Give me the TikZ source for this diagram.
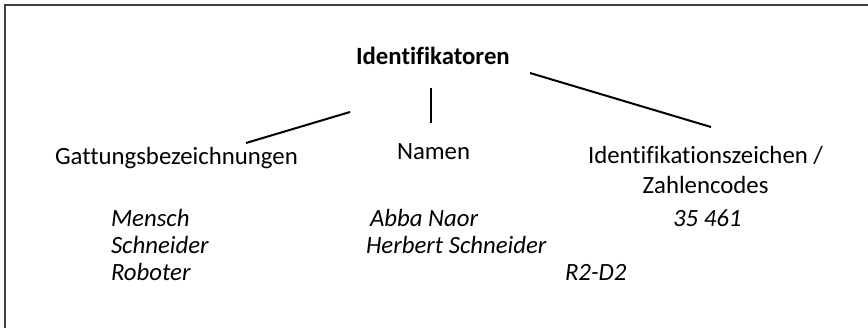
\documentclass[tikz,border=0pt]{standalone}
\usepackage{fontspec}
\setmainfont[Ligatures={NoCommon}]{Carlito}
\begin{document}
\begin{tikzpicture}[x=1pt,y=-1pt,
  lbl/.style={anchor=base west,inner sep=0pt,outer sep=0pt,font=\fontsize{24.8}{30}\selectfont},
  ex/.style={lbl,font=\fontsize{24.8}{30}\selectfont\itshape},
  conn/.style={line width=2pt,black},
  frame/.style={line width=2pt,draw=black!75}]
\useasboundingbox (0,0) rectangle (868,328);
\draw[frame] (868,5.5) -- (4.5,5.5) -- (4.5,328);
\node[lbl,font=\fontsize{24.8}{30}\selectfont\bfseries] (root) at (356,65) {Identifikatoren};
\node[lbl] (gatt) at (55,165) {Gattungsbezeichnungen};
\node[lbl] (nam) at (397,160) {Namen};
\node[lbl] (ident) at (588,164) {Identifikationszeichen /};
\node[lbl,anchor=base] (zahl) at (ident.base |- 0,194) {Zahlencodes};
\node[ex] (m1) at (111,227) {Mensch};
\node[ex] (m2) at (111,254) {Schneider};
\node[ex] (m3) at (111,281) {Roboter};
\node[ex] (n1) at (370,227) {Abba Naor};
\node[ex] (n2) at (366,254) {Herbert Schneider};
\node[ex] (z1) at (673,227) {35 461};
\node[ex] (z2) at (565,281) {R2-D2};
\coordinate (l1) at (350,112); \coordinate (l2) at (246,143);
\coordinate (c1) at (431,88); \coordinate (c2) at (431,123);
\coordinate (r1) at (530,73); \coordinate (r2) at (711,127);
\draw[conn] (l1) -- (l2);
\draw[conn] (c1) -- (c2);
\draw[conn] (r1) -- (r2);
\end{tikzpicture}
\end{document}
